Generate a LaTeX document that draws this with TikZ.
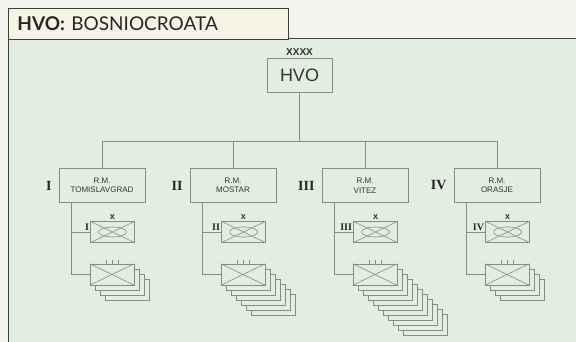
\documentclass[tikz,border=0pt]{standalone}
\usepackage{fontspec}
\usepackage{tikz}
\usetikzlibrary{positioning, calc}
\newfontfamily\titlefont{Lato}
\newfontfamily\unitfont{Liberation Sans}
\newfontfamily\romanfont{Liberation Serif}
\definecolor{paper}{HTML}{F4F5EF}
\definecolor{panel}{HTML}{E2EEDF}
\definecolor{headfill}{HTML}{F6F2E6}
\definecolor{frameline}{HTML}{3C3F3A}
\definecolor{chartline}{HTML}{858D84}

\begin{document}
\begin{tikzpicture}[x=1pt, y=-1pt,
    unit/.style={draw=chartline, fill=panel, line width=0.6pt, minimum width=86pt, minimum height=34pt, inner sep=0pt, align=center, font=\unitfont\fontsize{8}{9.5}\selectfont, text=black!80},
    brig/.style={draw=chartline, fill=panel, line width=0.6pt, minimum width=44pt, minimum height=21pt, inner sep=0pt},
    conn/.style={draw=chartline, line width=0.6pt},
    numlbl/.style={font=\romanfont\bfseries\fontsize{14}{14}\selectfont, text=black!85, inner sep=0pt},
    smallnum/.style={font=\romanfont\bfseries\fontsize{10}{10}\selectfont, text=black!85, inner sep=1pt},
    echelon/.style={font=\unitfont\bfseries\fontsize{9}{9}\selectfont, inner sep=0pt, text=black!80}
]
% page and frame
\useasboundingbox[fill=paper] (0,0) rectangle (576,342);
\fill[panel] (8,38) rectangle (576,342);
\draw[frameline, line width=0.8pt] (576,38) -- (8,38) -- (8,342);
% title tab
\node[draw=frameline, fill=headfill, line width=0.8pt, anchor=north west, minimum height=31pt, text width=262pt, inner xsep=9pt, align=left, font=\titlefont\fontsize{19}{19}\selectfont, text=black!85] (title) at (8,8) {\textbf{HVO:} BOSNIOCROATA};
% top command
\node[unit, minimum width=65pt, font=\unitfont\fontsize{18}{18}\selectfont] (hvo) at (299.5,75) {HVO};
\node[echelon, above=2pt of hvo, font=\unitfont\bfseries\fontsize{10}{10}\selectfont] (hvoech) {XXXX};
\coordinate (bus) at (299.5,141);
% the four military regions
\foreach \i/\cx/\rom/\place/\deep in {1/102/I/TOMISLAVGRAD/3, 2/233/II/MOSTAR/6, 3/365/III/VITEZ/10, 4/497/IV/ORASJE/3}{
  \node[unit] (rm\i) at (\cx,185.5) {R.M.\\\place};
  \node[numlbl, anchor=east] (rom\i) at ($(rm\i.west)+(-7,0)$) {\rom};
  \draw[conn] (rm\i.north |- bus) -- (rm\i.north);
  % brigade
  \node[brig] (br\i) at (\cx+10.5,232) {};
  \draw[conn] (br\i.north west) -- (br\i.south east) (br\i.south west) -- (br\i.north east);
  \draw[conn] (br\i.center) ellipse [x radius=14pt, y radius=5pt];
  \node[echelon, above=1.5pt of br\i] (brx\i) {x};
  \node[smallnum, anchor=south east] (brn\i) at (br\i.west) {\rom};
  % stacked regiments, back to front
  \foreach \k in {\deep,...,1}
    \draw[conn, fill=panel] (\cx-12+5*\k, 264+5*\k) rectangle ++(44,21);
  \node[brig] (st\i) at (\cx+10, 274.5) {};
  \draw[conn] (st\i.north west) -- (st\i.south east) (st\i.south west) -- (st\i.north east);
  \draw[conn] ($(st\i.north)+(-6,0)$) -- ++(0,-4) (st\i.north) -- ++(0,-4) ($(st\i.north)+(6,0)$) -- ++(0,-4);
  % trunk to brigade and regiments
  \coordinate (tr\i) at ($(rm\i.south west)+(13,0)$);
  \draw[conn] (tr\i) |- (st\i.west);
  \draw[conn] (tr\i |- br\i.west) -- (br\i.west);
}
\draw[conn] (hvo.south) -- (bus);
\draw[conn] (rm1.north |- bus) -- (rm4.north |- bus);
\end{tikzpicture}
\end{document}
